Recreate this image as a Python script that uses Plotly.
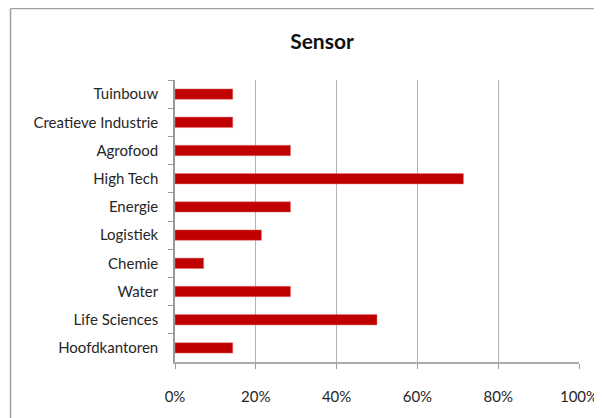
import plotly.graph_objects as go

categories = ["Tuinbouw", "Creatieve Industrie", "Agrofood", "High Tech", "Energie",
              "Logistiek", "Chemie", "Water", "Life Sciences", "Hoofdkantoren"]
values = [0.143, 0.143, 0.286, 0.714, 0.286, 0.214, 0.071, 0.286, 0.50, 0.143]
x_ticks = [0, 0.2, 0.4, 0.6, 0.8, 1.0]
x_tick_labels = ["0%", "20%", "40%", "60%", "80%", "100%"]
title_text = "Sensor"

OFF = 8  # default page body margin
W, H = 602 - OFF, 418 - OFF
L, R, T, B = 175 - OFF, 23, 80 - OFF, 56
pw, ph = W - L - R, H - T - B

font_family = "Lato, 'Open Sans', sans-serif"

fig = go.Figure(go.Bar(
    x=values, y=categories, orientation="h",
    marker=dict(color="#C00000", line=dict(color="rgba(230,120,120,0.8)", width=0.6)),
    width=0.37,
))

fig.update_layout(
    width=W, height=H,
    margin=dict(l=L, r=R, t=T, b=B, autoexpand=False),
    paper_bgcolor="white", plot_bgcolor="white",
    showlegend=False,
    font=dict(family=font_family, size=15, color="#262626"),
    title=dict(text="<b>" + title_text + "</b>", x=(322 - OFF) / W, xanchor="center",
               y=1 - (42 - OFF) / H, yanchor="middle",
               font=dict(family=font_family, size=21, color="#111")),
    xaxis=dict(range=[0, 1.0], tickvals=x_ticks, ticktext=x_tick_labels,
               showgrid=True, gridcolor="#B3B3B3", gridwidth=1,
               showline=True, linecolor="#AAAAAA", linewidth=1.5,
               ticks="outside", ticklen=5, tickcolor="#999999",
               ticklabelstandoff=15, zeroline=False, fixedrange=True),
    yaxis=dict(autorange="reversed", showgrid=False,
               showline=True, linecolor="#999999", linewidth=1.5,
               ticks="outside", ticklen=5, tickcolor="#999999", tickson="boundaries",
               ticklabelstandoff=12, fixedrange=True),
    shapes=[
        dict(type="line", xref="paper", yref="paper",
             x0=(10.5 - 175) / pw, x1=(10.5 - 175) / pw,
             y0=(362 - 8.5) / ph, y1=(362 - 425) / ph,
             line=dict(color="#A0A0A0", width=1.5)),
        dict(type="line", xref="paper", yref="paper",
             x0=(10.5 - 175) / pw, x1=(610 - 175) / pw,
             y0=(362 - 8.5) / ph, y1=(362 - 8.5) / ph,
             line=dict(color="#A0A0A0", width=1.5)),
    ],
)

fig.write_html("out.html")
